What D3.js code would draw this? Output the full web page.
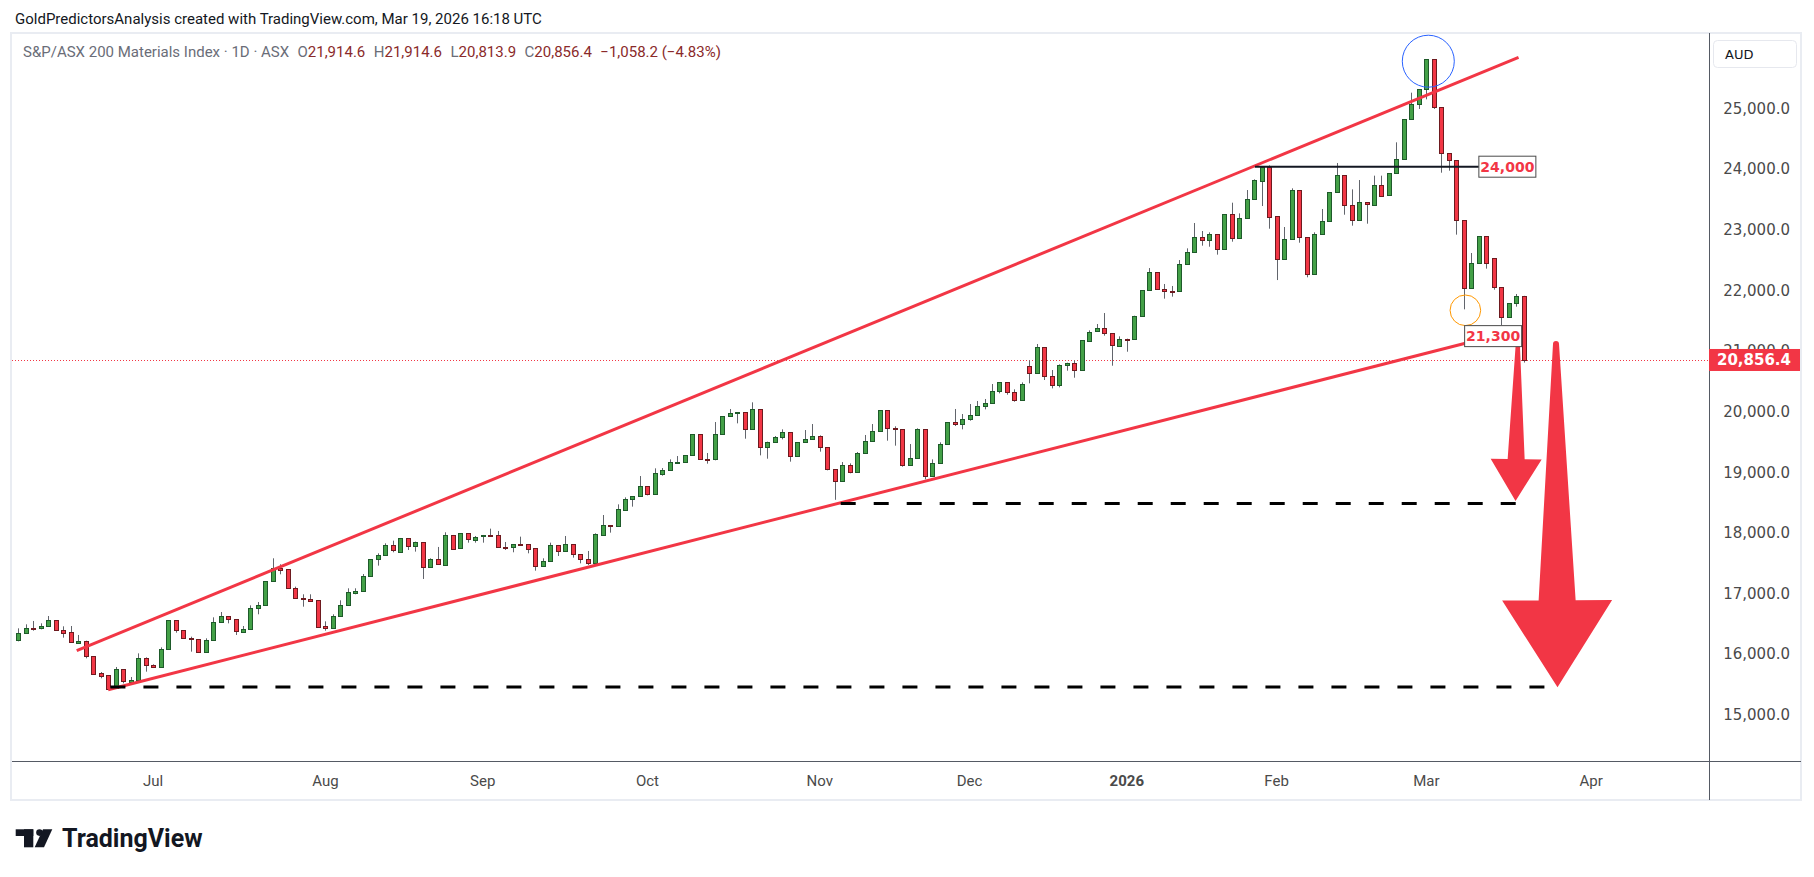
<!DOCTYPE html>
<html>
<head>
<meta charset="utf-8">
<script src="https://cdn.jsdelivr.net/npm/d3@7/dist/d3.min.js"></script>
<style>
  body { margin: 0; background: #ffffff; }
  svg { display: block; }
</style>
</head>
<body>
<script>
var width = 1814;
var height = 877;

// first bar of each month (bar index) and the label tradingview puts there
var monthLabels = ["Jul", "Aug", "Sep", "Oct", "Nov", "Dec", "2026", "Feb", "Mar", "Apr"];
var monthBars = [18, 41, 62, 84, 107, 127, 148, 168, 188, 210];
var priceTicks = [15000, 16000, 17000, 18000, 19000, 20000, 21000, 22000, 23000, 24000, 25000];

// daily OHLC, early June 2025 -> 19 Mar 2026
var opens = [16226,16342,16430,16424,16457,16562,16402,16364,16194,16215,15968,15693,15660,15434,15753,15544,15566,15935,15819,15781,
16083,16562,16397,16276,16248,16034,16226,16529,16628,16578,16375,16408,16754,16804,17200,17425,17403,17090,16930,16914,
16897,16468,16430,16622,16809,17019,17035,17288,17563,17634,17799,17684,17914,17777,17849,17431,17568,17480,17970,17744,
17997,17898,17948,17970,17970,17766,17766,17821,17821,17750,17453,17535,17805,17700,17821,17651,17574,17513,17969,18128,
18107,18382,18557,18601,18772,18634,18981,19030,19162,19162,19278,19630,19228,19212,19630,19927,19982,19993,19712,20042,
19415,19498,19580,19663,19267,19498,19542,19597,19415,19052,18855,19118,19003,19316,19514,19679,20026,19729,19712,19118,
19234,19712,18932,19151,19465,19828,19789,19877,19943,20092,20141,20339,20488,20322,20190,20751,20636,21065,20586,20438,
20762,20801,20680,21175,21323,21378,21296,21092,21208,21191,21576,22005,22302,22022,21989,21989,22434,22632,22879,22830,
22929,22681,23259,22863,23193,23506,23820,24045,23226,22516,22846,23655,22879,22275,22929,23143,23622,23902,23407,23160,
23457,23419,23743,23567,23930,24161,24821,25074,25321,25816,25024,24265,24150,23160,22033,22451,22896,22533,22055,21560,
21791,21914.6];
var highs = [16430,16496,16551,16512,16633,16562,16463,16468,16320,16226,15968,15709,15660,15792,15753,15627,16017,15951,15836,16116,
16562,16562,16397,16292,16248,16265,16611,16699,16628,16578,16468,16809,16864,17205,17585,17486,17403,17117,16991,16991,
16897,16545,16661,16892,17090,17090,17326,17568,17667,17832,17876,17920,17914,17860,17854,17585,17772,18014,17970,17997,
17997,17953,17970,18074,18036,17854,17821,17942,17821,17750,17585,17843,17805,17953,17821,17651,17706,17997,18299,18128,
18475,18590,18612,18942,18772,19069,19074,19217,19272,19283,19630,19630,19322,19833,19927,20048,19993,19993,20158,20042,
19509,19602,19712,19663,19498,19701,19800,19613,19415,19052,19173,19151,19338,19619,19800,20026,20026,19762,19712,19470,
19729,19712,19217,19498,19828,20048,19965,20130,20180,20213,20460,20488,20488,20372,20487,20850,21120,21065,20691,20784,
20812,20850,21180,21345,21450,21631,21296,21246,21208,21587,22005,22373,22302,22110,22077,22505,22698,23116,22984,22962,
22929,23259,23451,23275,23660,23836,24056,24067,23226,23050,23688,23655,22879,22962,23347,23622,24106,23902,23671,23825,
23457,23897,23897,23935,24447,24826,25266,25321,25816,25816,25024,24265,24150,23160,22621,22896,22896,22533,22055,21791,
21945,21914.6];
var lows = [16215,16342,16391,16413,16457,16397,16276,16199,16177,15935,15660,15605,15434,15434,15522,15533,15566,15715,15775,15781,
16083,16358,16265,16045,16034,16034,16226,16529,16512,16320,16375,16408,16661,16804,17200,17321,17090,16919,16787,16875,
16446,16391,16430,16622,16809,16991,17035,17288,17464,17634,17684,17684,17722,17695,17244,17431,17486,17480,17728,17744,
17843,17843,17843,17959,17766,17722,17684,17810,17667,17381,17453,17535,17623,17700,17596,17502,17475,17513,17969,18008,
18107,18382,18437,18601,18623,18634,18948,19030,19162,19162,19278,19217,19146,19201,19630,19927,19811,19558,19712,19283,
19228,19498,19547,19179,19267,19498,19542,19344,19036,18550,18855,18987,19003,19316,19514,19679,19525,19443,19096,19118,
19234,18888,18932,19151,19465,19767,19712,19855,19943,20042,20141,20306,20284,20168,20190,20471,20636,20526,20388,20405,
20680,20564,20680,21175,21323,21257,20762,21092,20993,21191,21576,22005,22011,21868,21901,21989,22434,22632,22742,22725,
22594,22681,22808,22863,23193,23506,23396,23022,22175,22516,22846,22791,22220,22275,22929,23143,23622,23253,23072,23160,
23105,23419,23551,23567,23930,24161,24821,24997,25156,24997,23946,23979,22924,21692,22033,22451,22363,22016,21433,21560,
21736,20813.9];
var closes = [16347,16430,16413,16463,16562,16397,16358,16199,16221,15962,15671,15649,15434,15753,15555,15577,15935,15814,15781,16083,
16562,16397,16265,16259,16034,16237,16529,16628,16578,16375,16419,16760,16809,17205,17420,17398,17090,16919,16914,16886,
16457,16430,16628,16809,17024,17046,17288,17568,17634,17799,17711,17914,17777,17849,17431,17568,17486,17970,17744,17997,
17898,17942,17970,17959,17766,17755,17821,17810,17744,17453,17535,17805,17700,17821,17651,17568,17513,17985,18128,18107,
18392,18563,18607,18772,18640,18986,19041,19168,19179,19283,19630,19217,19212,19630,19927,19976,19993,19712,20042,19415,
19498,19580,19663,19267,19498,19547,19597,19415,19052,18855,19118,19003,19316,19514,19679,20026,19729,19712,19118,19234,
19712,18932,19151,19465,19828,19789,19877,19943,20092,20141,20339,20488,20323,20190,20454,20636,21065,20586,20438,20768,
20801,20680,21180,21323,21378,21296,21092,21208,21197,21576,22005,22302,22022,21989,21978,22434,22632,22879,22830,22929,
22681,23259,22863,23193,23506,23820,24045,23226,22516,22846,23655,22879,22275,22929,23143,23622,23902,23407,23160,23457,
23424,23743,23567,23935,24166,24826,25074,25321,25816,25019,24260,24144,23155,22033,22451,22896,22451,22049,21560,21791,
21914.6,20856.4];
var lastPrice = 20856.4;

// drawings, anchored as [bar index, price]
var upperTrend = [[7.8, 16061], [200.3, 25850]];
var lowerTrend = [[12, 15417], [193.2, 21132]];
var level24k = [[165.1, 24045], [195, 24045]];
var targetUpper = [[109.8, 18490], [200, 18490]];
var targetLower = [[12.3, 15460], [205.3, 15460]];
var topCircle = [188.25, 25785];
var lowCircle = [193.2, 21676];
var label24k = [195, 24045, "24,000"];
var label21k = [193.1, 21250, "21,300"];
var smallArrow = [[200.2, 21136], [199.9, 18530]];
var bigArrow = [[205.3, 21120], [205.5, 15457]];

var red = "#F23645";
var pane = {left: 12, right: 1709, top: 34, bottom: 761};

var svg = d3.select("body").append("svg")
  .attr("width", width)
  .attr("height", height);

svg.append("rect").attr("width", width).attr("height", height).attr("fill", "#fff");

var x = d3.scaleLinear().domain([0, 201]).range([18.3, 1523.8]);
var y = d3.scaleLinear().domain([15000, 25000]).range([715, 108.8]);

// header line
svg.append("text")
  .attr("x", 15).attr("y", 23.5)
  .style("font-family", "Roboto, sans-serif").style("font-size", "15px")
  .attr("fill", "#131722")
  .text("GoldPredictorsAnalysis created with TradingView.com, Mar 19, 2026 16:18 UTC");

// outer frame
svg.append("rect")
  .attr("x", 11).attr("y", 33).attr("width", 1790).attr("height", 767)
  .attr("fill", "none").attr("stroke", "#e9ecf2").attr("stroke-width", 2);

svg.append("defs").append("clipPath").attr("id", "paneClip")
  .append("rect")
  .attr("x", pane.left).attr("y", pane.top)
  .attr("width", pane.right - pane.left).attr("height", pane.bottom - pane.top);

var g = svg.append("g").attr("clip-path", "url(#paneClip)");

// last price dotted line
g.append("line")
  .attr("x1", pane.left).attr("x2", pane.right)
  .attr("y1", Math.round(y(lastPrice)) + 0.5).attr("y2", Math.round(y(lastPrice)) + 0.5)
  .attr("stroke", red).attr("stroke-width", 1).attr("stroke-dasharray", "1,2");

// candles
var bars = closes.map(function(c, i) {
  return {i: i, o: opens[i], h: highs[i], l: lows[i], c: c, up: c >= opens[i]};
});
function cx(d) { return Math.round(x(d.i)) + 0.5; }

g.selectAll("line.wick").data(bars).enter().append("line")
  .attr("class", "wick")
  .attr("x1", cx).attr("x2", cx)
  .attr("y1", function(d) { return y(d.h); })
  .attr("y2", function(d) { return y(d.l); })
  .attr("stroke", "#62656c").attr("stroke-width", 1);

g.selectAll("rect.body").data(bars).enter().append("rect")
  .attr("class", "body")
  .attr("x", function(d) { return cx(d) - 2; })
  .attr("width", 4)
  .attr("y", function(d) { return Math.round(y(Math.max(d.o, d.c))) + 0.5; })
  .attr("height", function(d) { return Math.max(1, Math.round(y(Math.min(d.o, d.c)) - y(Math.max(d.o, d.c)))); })
  .attr("fill", function(d) { return d.up ? "#43A047" : red; })
  .attr("stroke", function(d) { return d.up ? "#1E5A2A" : "#6E1A1F"; })
  .attr("stroke-width", 1);

// trend lines
function seg(pts, color, w, dash) {
  return g.append("line")
    .attr("x1", x(pts[0][0])).attr("y1", y(pts[0][1]))
    .attr("x2", x(pts[1][0])).attr("y2", y(pts[1][1]))
    .attr("stroke", color).attr("stroke-width", w)
    .attr("stroke-dasharray", dash || null);
}
seg(upperTrend, red, 3);
seg(lowerTrend, red, 3);
seg(level24k, "#131722", 2);
seg(targetUpper, "#000", 3, "15,18");
seg(targetLower, "#000", 3, "15,18");

// circles
g.append("circle").attr("cx", x(topCircle[0])).attr("cy", y(topCircle[1])).attr("r", 26)
  .attr("fill", "none").attr("stroke", "#2962FF").attr("stroke-width", 1);
g.append("circle").attr("cx", x(lowCircle[0])).attr("cy", y(lowCircle[1])).attr("r", 15.3)
  .attr("fill", "none").attr("stroke", "#FF9800").attr("stroke-width", 1);

// arrow markers
function arrowPath(a, tailW, shaftW, headW, headLen) {
  var x0 = x(a[0][0]), y0 = y(a[0][1]), x1 = x(a[1][0]), y1 = y(a[1][1]);
  var dx = x1 - x0, dy = y1 - y0, len = Math.sqrt(dx * dx + dy * dy);
  var ux = dx / len, uy = dy / len, nx = -uy, ny = ux;
  var bx = x1 - ux * headLen, by = y1 - uy * headLen;
  var p = [
    [x0 + nx * tailW, y0 + ny * tailW],
    [bx + nx * shaftW, by + ny * shaftW],
    [bx + nx * headW, by + ny * headW],
    [x1, y1],
    [bx - nx * headW, by - ny * headW],
    [bx - nx * shaftW, by - ny * shaftW],
    [x0 - nx * tailW, y0 - ny * tailW]
  ];
  return "M" + p.map(function(q) { return q[0] + "," + q[1]; }).join("L") +
    "A" + tailW + "," + tailW + " 0 0 0 " + p[0][0] + "," + p[0][1] + "Z";
}
svg.append("path").attr("d", arrowPath(smallArrow, 2, 8.5, 25.5, 42)).attr("fill", red);
svg.append("path").attr("d", arrowPath(bigArrow, 3, 18.5, 55, 87)).attr("fill", red);

// price notes
function note(n) {
  var lx = x(n[0]), ly = y(n[1]);
  var box = svg.append("g").attr("transform", "translate(" + lx + "," + ly + ")");
  box.append("rect").attr("x", 0).attr("y", -10.5).attr("width", 57).attr("height", 21)
    .attr("fill", "#fff").attr("stroke", "#4a4a4a").attr("stroke-width", 1);
  box.append("text").attr("x", 28.5).attr("y", 5.2)
    .attr("text-anchor", "middle")
    .style("font-family", "'DejaVu Sans', sans-serif").style("font-size", "14px").style("font-weight", "bold")
    .attr("fill", red).text(n[2]);
}
note(label24k);
note(label21k);

// pane legend
var legend = svg.append("text")
  .attr("x", 23).attr("y", 57)
  .style("font-family", "Roboto, sans-serif").style("font-size", "15px")
  .attr("fill", "#6a6d78");
legend.append("tspan").text("S&P/ASX 200 Materials Index · 1D · ASX");
var ohlc = [["O", "21,914.6"], ["H", "21,914.6"], ["L", "20,813.9"], ["C", "20,856.4"]];
ohlc.forEach(function(p) {
  legend.append("tspan").attr("dx", 8.5).text(p[0]);
  legend.append("tspan").attr("fill", "#8a2a2a").text(p[1]);
});
legend.append("tspan").attr("dx", 8.5).attr("fill", "#8a2a2a").text("\u22121,058.2 (\u22124.83%)");

// axes lines
svg.append("line").attr("x1", pane.left).attr("x2", 1801).attr("y1", pane.bottom + 0.5).attr("y2", pane.bottom + 0.5)
  .attr("stroke", "#555a64").attr("stroke-width", 1);
svg.append("line").attr("x1", pane.right + 0.5).attr("x2", pane.right + 0.5).attr("y1", 33).attr("y2", 800)
  .attr("stroke", "#555a64").attr("stroke-width", 1);

// price axis
var yAxis = svg.append("g");
yAxis.selectAll("text").data(priceTicks).enter().append("text")
  .attr("x", 1790).attr("y", function(d) { return y(d) + 5; })
  .attr("text-anchor", "end")
  .style("font-family", "'DejaVu Sans', sans-serif").style("font-size", "15px")
  .attr("fill", "#4a4a4a")
  .text(function(d) { return d3.format(",.1f")(d); });

svg.append("rect").attr("x", 1713.5).attr("y", 40.5).attr("width", 83).attr("height", 27).attr("rx", 4)
  .attr("fill", "#fff").attr("stroke", "#e6e8ee");
svg.append("text").attr("x", 1725).attr("y", 59)
  .style("font-family", "'DejaVu Sans', sans-serif").style("font-size", "13px")
  .attr("fill", "#131722").text("AUD");

svg.append("rect").attr("x", pane.right).attr("y", y(lastPrice) - 11).attr("width", 91).attr("height", 22)
  .attr("fill", red);
svg.append("text").attr("x", 1791).attr("y", y(lastPrice) + 5.5)
  .attr("text-anchor", "end")
  .style("font-family", "'DejaVu Sans', sans-serif").style("font-size", "15px").style("font-weight", "bold")
  .attr("fill", "#fff").text(d3.format(",.1f")(lastPrice));

// time axis
svg.selectAll("text.month").data(monthLabels).enter().append("text")
  .attr("class", "month")
  .attr("x", function(d, i) { return x(monthBars[i]); })
  .attr("y", 786)
  .attr("text-anchor", "middle")
  .style("font-family", "Roboto, sans-serif").style("font-size", "15px")
  .style("font-weight", function(d) { return d === "2026" ? "bold" : "normal"; })
  .attr("fill", "#4a4a4a")
  .text(function(d) { return d; });

// tradingview mark
var logo = svg.append("g").attr("fill", "#131722");
logo.append("rect").attr("x", 15.7).attr("y", 829.3).attr("width", 17.6).attr("height", 6.7);
logo.append("rect").attr("x", 24).attr("y", 829.3).attr("width", 9.3).attr("height", 18);
logo.append("circle").attr("cx", 39.5).attr("cy", 832.6).attr("r", 3.3);
logo.append("path").attr("d", "M43,829.3L52.3,829.3L44,847.3L34.7,847.3Z");
svg.append("text").attr("x", 62).attr("y", 847.3)
  .style("font-family", "Roboto, sans-serif").style("font-size", "25px").style("font-weight", "bold")
  .attr("fill", "#131722").text("TradingView");
</script>
</body>
</html>
